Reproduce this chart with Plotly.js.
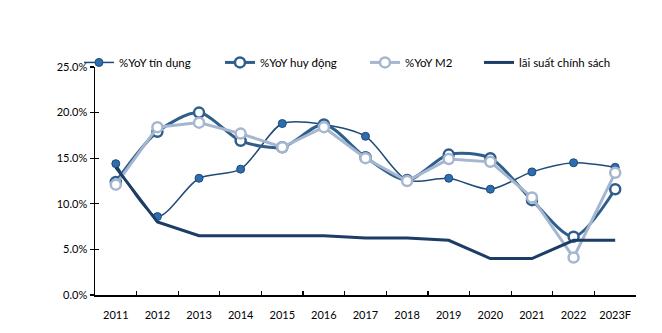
<!DOCTYPE html>
<html>
<head>
<meta charset="utf-8">
<script src="https://cdn.plot.ly/plotly-3.0.1.min.js"></script>
<style>html,body{margin:0;padding:0;background:#fff;}#chart{width:662px;height:333px;}</style>
</head>
<body>
<div id="chart"></div>
<script>
const years = ["2011","2012","2013","2014","2015","2016","2017","2018","2019","2020","2021","2022","2023F"];
const credit = [14.4, 8.6, 12.8, 13.8, 18.8, 18.7, 17.4, 12.6, 12.8, 11.6, 13.5, 14.5, 14.0];
const deposit = [12.4, 17.9, 20.0, 16.9, 16.2, 18.7, 15.1, 12.6, 15.4, 15.0, 10.4, 6.4, 11.6];
const m2 = [12.1, 18.4, 18.9, 17.7, 16.2, 18.4, 15.0, 12.5, 14.9, 14.6, 10.7, 4.1, 13.4];
const policyRate = [14.0, 8.0, 6.5, 6.5, 6.5, 6.5, 6.25, 6.25, 6.0, 4.0, 4.0, 6.0, 6.0];
const yTicks = [0, 5, 10, 15, 20, 25];

const traces = [
  {x: years, y: credit, name: "%YoY tín dụng", type: "scatter", mode: "lines+markers", legend: "legend",
   line: {color: "#1F4A78", width: 1.5, shape: "spline", smoothing: 0.8},
   marker: {color: "#2E6DB0", size: 8, line: {color: "#1F4A78", width: 1}}},
  {x: years, y: deposit, name: "%YoY huy động", type: "scatter", mode: "lines+markers", legend: "legend2",
   line: {color: "#2F5E8C", width: 3, shape: "spline", smoothing: 0.8},
   marker: {color: "#ffffff", size: 10, line: {color: "#2F5E8C", width: 2.5}}},
  {x: years, y: m2, name: "%YoY M2", type: "scatter", mode: "lines+markers", legend: "legend3",
   line: {color: "#A5B6CF", width: 3},
   marker: {color: "#ffffff", size: 10, line: {color: "#A5B6CF", width: 2.5}}},
  {x: years, y: policyRate, name: "lãi suất chính sách", type: "scatter", mode: "lines", legend: "legend4",
   line: {color: "#1B3D66", width: 3}},
  {x: years, y: policyRate, type: "scatter", mode: "none", yaxis: "y2", showlegend: false, hoverinfo: "skip"}
];

function leg(x) {
  return {orientation: "h", x: x, xanchor: "left", y: 1.02, yanchor: "middle",
    font: {size: 11.5, color: "#000"}, bgcolor: "rgba(0,0,0,0)", itemwidth: 30};
}

const layout = {
  width: 662, height: 333,
  margin: {l: 95, r: 26, t: 67, b: 38},
  paper_bgcolor: "#fff", plot_bgcolor: "#fff",
  font: {family: "Lato, 'Open Sans', sans-serif", size: 11, color: "#000"},
  showlegend: true,
  legend: leg(-0.0296),
  legend2: leg(0.231),
  legend3: leg(0.499),
  legend4: leg(0.7098),
  xaxis: {type: "category", showline: true, linecolor: "#000", linewidth: 1.5,
    ticks: "inside", tickson: "boundaries", ticklen: 4, tickcolor: "#000", tickwidth: 1.2,
    ticklabelstandoff: 9,
    showgrid: false, zeroline: false, tickfont: {size: 11}, range: [-0.5, 12.5]},
  yaxis: {range: [0, 25], tickvals: yTicks, ticktext: yTicks.map(v => v.toFixed(1) + "%"),
    showline: true, linecolor: "#000", linewidth: 1.5, ticks: "outside", ticklen: 4, tickcolor: "#000", tickwidth: 1.2,
    showgrid: false, zeroline: false, tickfont: {size: 11}},
  yaxis2: {overlaying: "y", side: "left", range: [0, 25], tickvals: yTicks, showticklabels: false,
    ticks: "inside", ticklen: 4, tickcolor: "#000", tickwidth: 1.2, showline: false, showgrid: false, zeroline: false}
};

Plotly.newPlot("chart", traces, layout, {displayModeBar: false, staticPlot: true});
</script>
</body>
</html>
